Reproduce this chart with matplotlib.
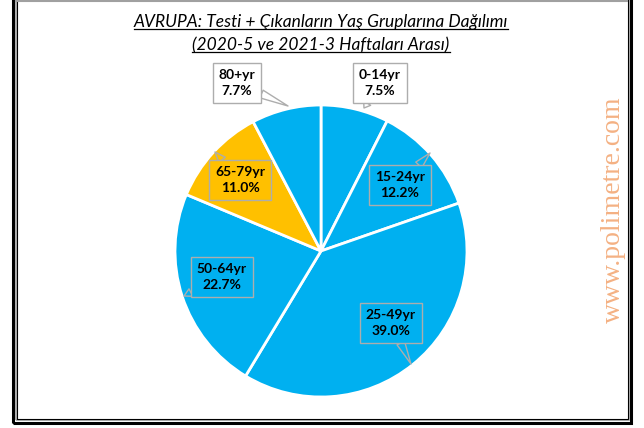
import matplotlib
matplotlib.use("Agg")
import matplotlib.pyplot as plt
from matplotlib.patches import Rectangle
from matplotlib.lines import Line2D

# data (clockwise from 12 o'clock)
groups = ["0-14yr", "15-24yr", "25-49yr", "50-64yr", "65-79yr", "80+yr"]
shares = [7.5, 12.2, 39.0, 22.7, 11.0, 7.7]
highlight = "65-79yr"

BLUE = "#00B0F0"; GOLD = "#FFC000"; EDGE = "#ADADAD"
W, H = 644, 428
FONT = ["Lato", "DejaVu Sans"]

fig = plt.figure(figsize=(W / 100, H / 100), dpi=100)
ax = fig.add_axes([0, 0, 1, 1])
ax.set_xlim(0, W); ax.set_ylim(0, H); ax.axis("off")

cx, cy, r = 321, H - 251, 146
colors = [GOLD if g == highlight else BLUE for g in groups]
wedges, _ = ax.pie(shares, colors=colors, startangle=90, counterclock=False,
                   center=(cx, cy), radius=r, frame=True,
                   wedgeprops=dict(edgecolor="white", linewidth=2))
ax.set_xlim(0, W); ax.set_ylim(0, H); ax.axis("off")

# callout labels: (text centre px, arrow tip px, box fill)
callouts = {
    "0-14yr":  ((380, 83),  (364, 108), "white"),
    "15-24yr": ((400, 185), (430, 153), BLUE),
    "25-49yr": ((391, 323), (411, 364), BLUE),
    "50-64yr": ((222, 277), (184, 296), BLUE),
    "65-79yr": ((240, 180), (215, 152), GOLD),
    "80+yr":   ((237, 83),  (288, 106), "white"),
}
for g, v in zip(groups, shares):
    (tx, ty), (px, py), fc = callouts[g]
    ax.annotate(f"{g}\n{v:.1f}%", xy=(px, H - py), xytext=(tx, H - ty),
                ha="center", va="center", fontsize=10, fontweight="bold",
                family=FONT, color="black", linespacing=1.4,
                bbox=dict(boxstyle="square,pad=0.4", fc=fc, ec=EDGE, lw=1),
                arrowprops=dict(arrowstyle="wedge,tail_width=0.6,shrink_factor=0.5",
                                fc=fc, ec=EDGE, lw=1, shrinkA=0, shrinkB=0))

# title, italic + underlined
t1 = ax.text(cx, H - 22, "AVRUPA: Testi + Çıkanların Yaş Gruplarına Dağılımı",
             ha="center", va="center", fontsize=12.5, style="italic", family=FONT)
t2 = ax.text(cx, H - 45, "(2020-5 ve 2021-3 Haftaları Arası)",
             ha="center", va="center", fontsize=12.5, style="italic", family=FONT)
fig.canvas.draw()
rend = fig.canvas.get_renderer()
for t in (t1, t2):
    bb = t.get_window_extent(rend)
    ax.add_line(Line2D([bb.x0, bb.x1], [bb.y0 + 1, bb.y0 + 1], color="black", lw=0.9))

# watermark
ax.text(613, H - 210, "www.polimetre.com", rotation=90, ha="center", va="center",
        fontsize=20, color="#F4B183", family=["Liberation Serif", "DejaVu Serif"])

# frame
ax.add_line(Line2D([16, 627], [H - 0.5, H - 0.5], color="#A0A0A0", lw=1.5))
ax.add_patch(Rectangle((13.5, 5.5), 618, 430, fill=False, ec="black", lw=2.2))
ax.add_patch(Rectangle((15.8, 7.8), 613.4, 430, fill=False, ec="#A0A0A0", lw=1.2))
ax.add_patch(Rectangle((17.3, 9.3), 610.4, 430, fill=False, ec="black", lw=0.8))

fig.savefig("out.png", dpi=100, facecolor="white")
